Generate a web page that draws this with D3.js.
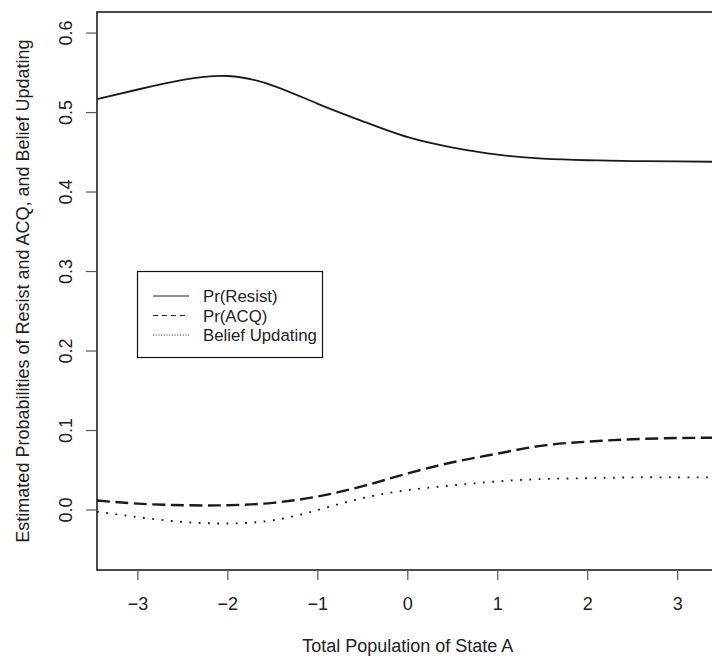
<!DOCTYPE html>
<html><head><meta charset="utf-8">
<script src="https://cdn.jsdelivr.net/npm/d3@7"></script>
<style>
html,body{margin:0;padding:0;background:#fff;}
svg{display:block;}
text{font-family:"Liberation Sans",Arial,Helvetica,sans-serif;fill:#222;}
</style></head>
<body>
<svg id="chart" width="712" height="660"></svg>
<script>
const xGrid = [-3.455, -3, -2.5, -2, -1.5, -1, -0.5, 0, 0.5, 1, 1.5, 2, 2.5, 3, 3.455];
const prResist = [0.517, 0.529, 0.541, 0.546, 0.534, 0.511, 0.489, 0.469, 0.456, 0.447, 0.442, 0.440, 0.439, 0.4385, 0.438];
const prACQ = [0.012, 0.008, 0.006, 0.006, 0.009, 0.017, 0.030, 0.046, 0.060, 0.071, 0.081, 0.086, 0.089, 0.0905, 0.091];
const beliefUpdating = [-0.002, -0.009, -0.015, -0.017, -0.013, 0.000, 0.015, 0.025, 0.031, 0.036, 0.039, 0.040, 0.041, 0.041, 0.041];
const xTicks = [-3, -2, -1, 0, 1, 2, 3];
const yTicks = [0.0, 0.1, 0.2, 0.3, 0.4, 0.5, 0.6];
const seriesNames = ["Pr(Resist)", "Pr(ACQ)", "Belief Updating"];
const xTitle = "Total Population of State A";
const yTitle = "Estimated Probabilities of Resist and ACQ, and Belief Updating";

const svg = d3.select("#chart");
const L = 97, R = 718.6, T = 12, B = 570;
const FS = 18;
const x = d3.scaleLinear().domain([-3.455, 3.455]).range([L, R]);
const y = d3.scaleLinear().domain([-0.0755, 0.6265]).range([B, T]);

const fmtMinus = v => (v < 0 ? "\u2212" + Math.abs(v) : String(v));

// lines
const lineGen = vals => d3.line().x((d, i) => x(xGrid[i])).y(d => y(d)).curve(d3.curveNatural)(vals);
const styles = [
  {w: 1.8, dash: null},
  {w: 2.4, dash: "13,5.5"},
  {w: 1.9, dash: "1.8,7.5"}
];
const plotG = svg.append("g");
[prResist, prACQ, beliefUpdating].forEach((vals, i) => {
  plotG.append("path").attr("d", lineGen(vals)).attr("fill", "none")
    .attr("stroke", "#1a1a1a").attr("stroke-width", styles[i].w)
    .attr("stroke-dasharray", styles[i].dash);
});

// box
svg.append("rect").attr("x", L).attr("y", T).attr("width", R - L).attr("height", B - T)
  .attr("fill", "none").attr("stroke", "#111").attr("stroke-width", 1.5);

// x axis
const xAxis = svg.append("g");
xTicks.forEach(t => {
  xAxis.append("line").attr("x1", x(t)).attr("x2", x(t)).attr("y1", B).attr("y2", B + 10)
    .attr("stroke", "#555").attr("stroke-width", 1.2);
  xAxis.append("text").attr("x", x(t)).attr("y", 610).attr("text-anchor", "middle")
    .attr("font-size", FS).text(fmtMinus(t));
});
svg.append("text").attr("x", (L + R) / 2).attr("y", 652).attr("text-anchor", "middle")
  .attr("font-size", FS).text(xTitle);

// y axis
const yAxis = svg.append("g");
yTicks.forEach(t => {
  yAxis.append("line").attr("x1", L - 11).attr("x2", L).attr("y1", y(t)).attr("y2", y(t))
    .attr("stroke", "#555").attr("stroke-width", 1.2);
  yAxis.append("text").attr("transform", `translate(71.5,${y(t)}) rotate(-90)`)
    .attr("text-anchor", "middle").attr("font-size", FS).text(t.toFixed(1));
});
svg.append("text").attr("transform", `translate(29,${(T + B) / 2}) rotate(-90)`)
  .attr("text-anchor", "middle").attr("font-size", FS).text(yTitle);

// legend
const lg = svg.append("g");
lg.append("rect").attr("x", 137.5).attr("y", 271.5).attr("width", 185).attr("height", 86)
  .attr("fill", "#fff").attr("stroke", "#111").attr("stroke-width", 1.2);
const legDash = [null, "5,4", "1,1.7"];
seriesNames.forEach((n, i) => {
  const yy = 296 + i * 19.5;
  lg.append("line").attr("x1", 153).attr("x2", 189).attr("y1", yy).attr("y2", yy)
    .attr("stroke", "#222").attr("stroke-width", 1).attr("stroke-dasharray", legDash[i]);
  lg.append("text").attr("x", 203).attr("y", yy + 6).attr("font-size", 16.8).text(n);
});
</script>
</body></html>
